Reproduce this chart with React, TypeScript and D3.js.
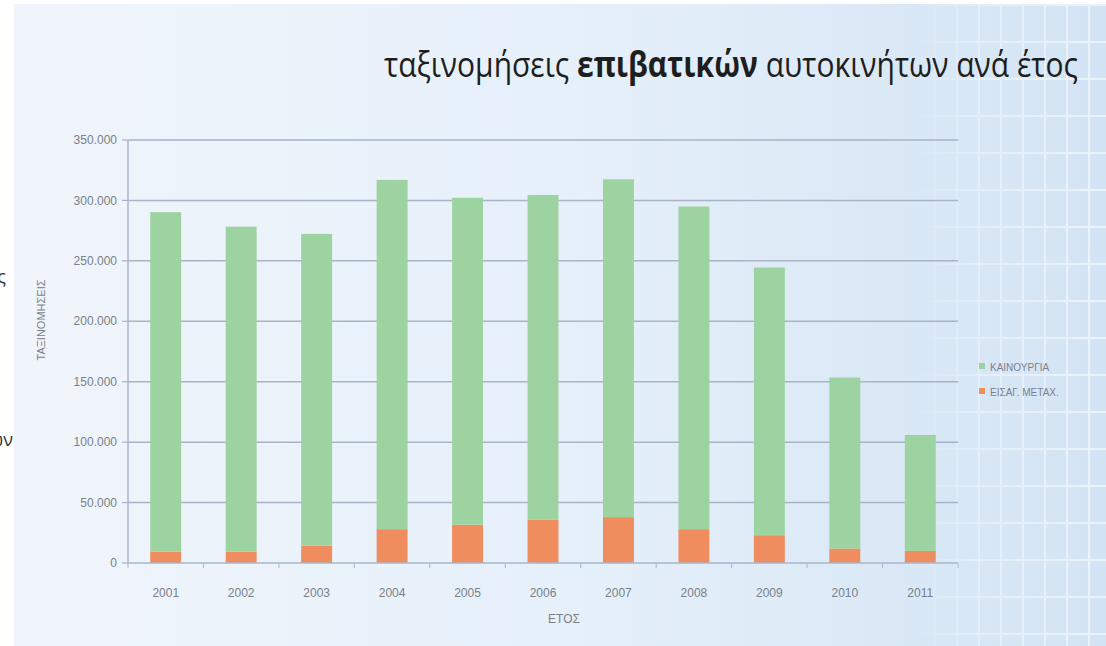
import React, { useLayoutEffect, useRef, useState } from 'react';
import * as d3 from 'd3';

const years = ['2001', '2002', '2003', '2004', '2005', '2006', '2007', '2008', '2009', '2010', '2011'];
const newCars = [281000, 269000, 258000, 289000, 270500, 268500, 279500, 267000, 221500, 141500, 96000];
const usedImports = [9300, 9300, 14300, 28000, 31700, 36000, 38000, 28000, 23000, 12000, 10000];
const seriesKeys = ['used', 'new'];
const seriesNames: Record<string, string> = { new: 'ΚΑΙΝΟΥΡΓΙΑ', used: 'ΕΙΣΑΓ. ΜΕΤΑΧ.' };
const seriesColors: Record<string, string> = { new: '#9dd3a0', used: '#ef8d5f' };
const yTicks = [0, 50000, 100000, 150000, 200000, 250000, 300000, 350000];
const titleParts = [
  { text: 'ταξινομήσεις ', bold: false },
  { text: 'επιβατικών', bold: true },
  { text: ' αυτοκινήτων ανά έτος', bold: false },
];
const yAxisTitle = 'ΤΑΞΙΝΟΜΗΣΕΙΣ';
const xAxisTitle = 'ΕΤΟΣ';

const W = 1106;
const H = 646;
const M = { left: 128, right: 958, top: 140, bottom: 563 };
const smallFont = '"Liberation Sans Narrow", "Liberation Sans", Arial, sans-serif';
const TITLE_X = 384;
const TITLE_W = 694;

export default function App() {
  const titleRef = useRef<SVGTextElement>(null);
  const [titleScale, setTitleScale] = useState(1);
  useLayoutEffect(() => {
    if (titleRef.current) {
      const w = titleRef.current.getBBox().width;
      if (w > 0) setTitleScale(TITLE_W / w);
    }
  }, []);

  const rows = years.map((y, i) => ({ year: y, new: newCars[i], used: usedImports[i] }));
  const stack = d3.stack<any>().keys(seriesKeys)(rows);
  const x = d3.scaleBand().domain(years).range([M.left, M.right]).paddingInner(0.59).paddingOuter(0.295);
  const y = d3.scaleLinear().domain([0, 350000]).range([M.bottom, M.top]);
  const fmt = (v: number) => d3.format(',')(v).replace(/,/g, '.');
  const step = x.step();
  const boundaries = d3.range(years.length + 1).map((i) => M.left + i * step);

  const vLines = d3.range(912, W + 20, 22);
  const hLines = d3.range(4, H, 37);

  return (
    <svg width={W} height={H} style={{ position: 'absolute', left: 0, top: 0 }}>
      <defs>
        <linearGradient id="bg" x1="0" x2="1" y1="0" y2="0">
          <stop offset="0" stopColor="#f0f5fb" />
          <stop offset="0.5" stopColor="#e6f0fa" />
          <stop offset="1" stopColor="#d3e4f4" />
        </linearGradient>
        <linearGradient id="fade" x1="0" x2="1" y1="0" y2="0">
          <stop offset="0" stopColor="#fff" stopOpacity="0" />
          <stop offset="0.35" stopColor="#fff" stopOpacity="0.6" />
          <stop offset="1" stopColor="#fff" stopOpacity="1" />
        </linearGradient>
        <mask id="tileMask" maskUnits="userSpaceOnUse" x="0" y="0" width={W} height={H}>
          <rect x={912} y={0} width={W - 912} height={H} fill="url(#fade)" />
        </mask>
      </defs>
      <rect x={0} y={0} width={W} height={H} fill="#ffffff" />
      <rect x={14} y={4} width={W - 14} height={H - 4} fill="url(#bg)" />
      <g mask="url(#tileMask)" opacity={0.55}>
        {vLines.map((vx) => (
          <rect key={'v' + vx} x={vx} y={4} width={2} height={H} fill="#ffffff" />
        ))}
        {hLines.map((hy) => (
          <rect key={'h' + hy} x={912} y={hy} width={W - 912} height={2} fill="#ffffff" />
        ))}
      </g>

      {/* left cut-off fragments */}
      <text x={6} y={283} textAnchor="end" fontFamily='"Open Sans", sans-serif' fontSize={18} fill="#333">ς</text>
      <text x={13} y={446} textAnchor="end" fontFamily='"Open Sans", sans-serif' fontSize={18} fill="#333">ων</text>

      {/* title */}
      <g transform={`translate(${TITLE_X}, 77) scale(${titleScale}, 1)`}>
        <text ref={titleRef} x={0} y={0} fontFamily='"Open Sans", sans-serif' fontSize={35} fill="#1e1e1e">
          {titleParts.map((p, i) => (
            <tspan key={i} fontWeight={p.bold ? 700 : 400}>{p.text}</tspan>
          ))}
        </text>
      </g>

      {/* gridlines & y ticks */}
      {yTicks.map((t) => (
        <g key={t}>
          {t > 0 && <line x1={M.left} x2={M.right} y1={y(t)} y2={y(t)} stroke="#a9b3c6" strokeWidth={1.5} />}
          <line x1={M.left - 6} x2={M.left} y1={y(t)} y2={y(t)} stroke="#a9b3c6" strokeWidth={1.2} />
          <text x={117} y={y(t)} dy="0.35em" textAnchor="end" fontFamily={smallFont} fontSize={12} fill="#7a7f88">
            {fmt(t)}
          </text>
        </g>
      ))}
      <line x1={M.left} x2={M.left} y1={M.top} y2={M.bottom} stroke="#a9b6cc" strokeWidth={1.5} />

      {/* bars */}
      {stack.map((s) => (
        <g key={s.key} fill={seriesColors[s.key]}>
          {s.map((d, i) => (
            <rect key={i} x={x(years[i])} width={x.bandwidth()} y={y(d[1])} height={y(d[0]) - y(d[1])} />
          ))}
        </g>
      ))}

      {/* x axis */}
      <line x1={M.left} x2={M.right} y1={M.bottom} y2={M.bottom} stroke="#a9b6cc" strokeWidth={1.5} />
      {boundaries.map((bx, i) => (
        <line key={i} x1={bx} x2={bx} y1={M.bottom} y2={M.bottom + 5} stroke="#a9b6cc" strokeWidth={1} />
      ))}
      {years.map((yr) => (
        <text key={yr} x={(x(yr) as number) + x.bandwidth() / 2} y={597} textAnchor="middle" fontFamily={smallFont} fontSize={12} fill="#7a7f88">
          {yr}
        </text>
      ))}
      <text x={564} y={623} textAnchor="middle" fontFamily={smallFont} fontSize={12} fill="#7a7f88">{xAxisTitle}</text>
      <text transform={`translate(45, 320) rotate(-90)`} textAnchor="middle" fontFamily={smallFont} fontSize={11} fill="#7a7f88">
        {yAxisTitle}
      </text>

      {/* legend */}
      {['new', 'used'].map((k, i) => (
        <g key={k} transform={`translate(979, ${367 + i * 25})`}>
          <rect x={0} y={-4} width={6} height={6} fill={seriesColors[k]} />
          <text x={11} y={0} dy="0.35em" fontFamily={smallFont} fontSize={10} fill="#7a8090">{seriesNames[k]}</text>
        </g>
      ))}
    </svg>
  );
}
